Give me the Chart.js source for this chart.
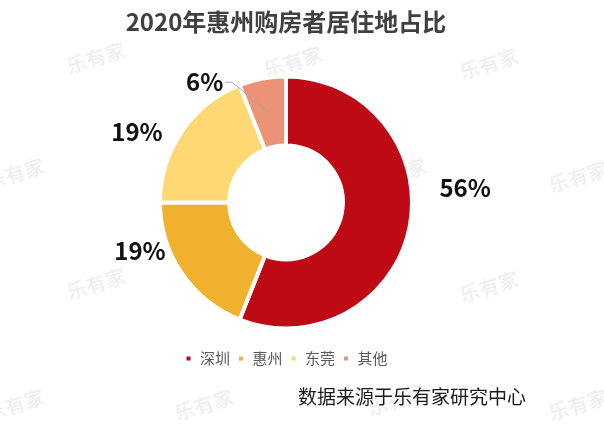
<!DOCTYPE html>
<html>
<head>
<meta charset="utf-8">
<script src="https://cdn.jsdelivr.net/npm/chart.js@4"></script>
<style>
  html, body { margin: 0; padding: 0; background: #fff; }
  #wrap { width: 604px; height: 428px; }
</style>
</head>
<body>
<div id="wrap"><canvas id="c" width="604" height="428"></canvas></div>
<script>
// data
var cities = ['深圳', '惠州', '东莞', '其他'];
var shares = [56, 19, 19, 6];
var colors = ['#BE0A14', '#F0B12E', '#FDD873', '#EC9276'];

var FONT = '"Noto Sans CJK SC", "Noto Sans", sans-serif';

// label nudges (px) from the default radial spot
var nudge = [[20, -45], [-12, -43], [-15, 21], [-51, 39]];

var labelPlugin = {
  id: 'pctLabels',
  afterDatasetsDraw: function (chart) {
    var ctx = chart.ctx;
    var meta = chart.getDatasetMeta(0);
    ctx.save();
    meta.data.forEach(function (arc, i) {
      var p = arc.getProps(['x', 'y', 'startAngle', 'endAngle', 'outerRadius', 'innerRadius'], true);
      var mid = (p.startAngle + p.endAngle) / 2;
      var d = p.outerRadius + 36;
      var lx = p.x + Math.cos(mid) * d + nudge[i][0];
      var ly = p.y + Math.sin(mid) * d + nudge[i][1];
      var txt = shares[i] + '%';
      ctx.font = 'bold 24px ' + FONT;
      ctx.fillStyle = '#111';
      ctx.textAlign = 'center';
      ctx.textBaseline = 'middle';
      ctx.fillText(txt, lx, ly);
      if (i === 3) {
        // leader line to the small slice
        var w = ctx.measureText(txt).width;
        var rm = (p.outerRadius + p.innerRadius) / 2;
        var ex = p.x + Math.cos(mid) * rm;
        var ey = p.y + Math.sin(mid) * rm;
        ctx.strokeStyle = '#A6A6A6';
        ctx.lineWidth = 1;
        ctx.beginPath();
        ctx.moveTo(lx + w / 2 + 2, ly);
        ctx.lineTo(lx + w / 2 + 9, ly);
        ctx.lineTo(ex, ey);
        ctx.stroke();
      }
    });
    ctx.restore();
  },
  afterDraw: function (chart) {
    var ctx = chart.ctx;
    ctx.save();
    ctx.font = '19px ' + FONT;
    ctx.fillStyle = '#1a1a1a';
    ctx.textAlign = 'left';
    ctx.textBaseline = 'middle';
    ctx.fillText('数据来源于乐有家研究中心', 298, 397);
    ctx.restore();
  }
};

// faint watermark
var markPlugin = {
  id: 'watermark',
  beforeDraw: function (chart) {
    var ctx = chart.ctx;
    var spots = [[96, 58], [293, 62], [489, 64], [15, 174], [204, 177], [397, 174], [578, 177],
                 [96, 284], [300, 290], [489, 287], [15, 405], [204, 405], [397, 400], [578, 405]];
    ctx.save();
    ctx.fillStyle = '#fff';
    ctx.fillRect(0, 0, chart.width, chart.height);
    ctx.font = 'bold 20px ' + FONT;
    ctx.fillStyle = 'rgba(0,0,0,0.06)';
    ctx.textAlign = 'center';
    ctx.textBaseline = 'middle';
    spots.forEach(function (s) {
      ctx.save();
      ctx.translate(s[0], s[1]);
      ctx.rotate(-0.3);
      ctx.fillText('乐有家', 0, 0);
      ctx.restore();
    });
    ctx.restore();
  }
};

var config = {
  type: 'doughnut',
  data: {
    labels: cities,
    datasets: [{
      data: shares,
      backgroundColor: colors,
      borderColor: '#fff',
      borderWidth: 4,
      hoverOffset: 0,
      radius: 126,
      cutout: 63
    }]
  },
  options: {
    responsive: false,
    animation: false,
    layout: { padding: { top: 0, bottom: 52, left: 0, right: 32 } },
    plugins: {
      title: {
        display: true,
        text: '2020年惠州购房者居住地占比',
        color: '#404040',
        font: { family: FONT, size: 24, weight: 'bold' },
        padding: { top: 7, bottom: 25 }
      },
      legend: {
        position: 'bottom',
        labels: {
          color: '#595959',
          font: { family: FONT, size: 15 },
          usePointStyle: true,
          pointStyle: 'rect',
          boxWidth: 8,
          boxHeight: 8,
          padding: 7
        }
      },
      tooltip: { enabled: false }
    }
  },
  plugins: [markPlugin, labelPlugin]
};

var chart = new Chart(document.getElementById('c'), config);
</script>
</body>
</html>
